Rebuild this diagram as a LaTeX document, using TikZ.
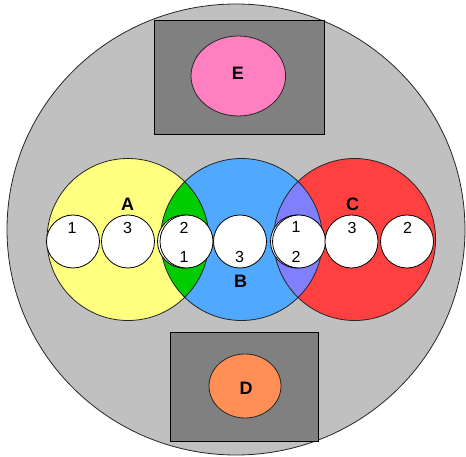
\documentclass[tikz,border=0pt]{standalone}
\usepackage{fontspec}
\setmainfont{Liberation Sans}
\usetikzlibrary{shapes.geometric}
\definecolor{diskgray}{HTML}{C0C0C0}
\definecolor{boxgray}{HTML}{808080}
\definecolor{pinkE}{HTML}{FF80C0}
\definecolor{orangeD}{HTML}{FF8F55}
\definecolor{yellowA}{HTML}{FFFF80}
\definecolor{blueB}{HTML}{50A8FF}
\definecolor{redC}{HTML}{FF4040}
\definecolor{greenAB}{HTML}{00CC00}
\definecolor{violetBC}{HTML}{8080FF}
\begin{document}
\begin{tikzpicture}[x=1pt,y=-1pt,
  outline/.style={draw=black!85, line width=0.8pt},
  hole/.style={circle, draw=black, line width=0.8pt, fill=white,
               minimum size=53pt, inner sep=0pt},
  blob/.style={ellipse, draw=black!85, line width=0.8pt, inner sep=0pt},
  num/.style={font=\fontsize{16}{16}\selectfont, inner sep=0pt},
  tag/.style={font=\fontsize{18}{18}\selectfont\bfseries, inner sep=0pt}]
\useasboundingbox (0,0) rectangle (466,457);

% outer disk
\draw[outline, fill=diskgray] (236,229.5) ellipse [x radius=229pt, y radius=225.5pt];

% upper and lower boxes with their ellipses
\draw[draw=black, line width=0.8pt, fill=boxgray] (154.7,20) rectangle (324,134);
\draw[draw=black, line width=0.8pt, fill=boxgray] (170,332.7) rectangle (318.7,441);
\node[blob, fill=pinkE, minimum width=94.6pt, minimum height=80pt] (E) at (238.3,76) {};
\node[blob, fill=orangeD, minimum width=72pt, minimum height=64pt] (D) at (245,386) {};
\node[tag] (labE) at (238,73) {E};
\node[tag] (labD) at (246,388) {D};

% the three sets
\coordinate (cA) at (128,239.5);
\coordinate (cB) at (241.5,239.5);
\coordinate (cC) at (354.6,239.5);
\fill[yellowA] (cA) circle (81pt);
\fill[blueB] (cB) circle (81pt);
\fill[redC] (cC) circle (81pt);
\begin{scope}
  \clip (cA) circle (81pt);
  \fill[greenAB] (cB) circle (81pt);
\end{scope}
\begin{scope}
  \clip (cC) circle (81pt);
  \fill[violetBC] (cB) circle (81pt);
\end{scope}
\draw[outline] (cA) circle (81pt);
\draw[outline] (cB) circle (81pt);
\draw[outline] (cC) circle (81pt);

% members
\node[hole] (a1) at (73,241.5) {};
\node[hole] (a3) at (128,241.5) {};
\node[hole] (a2) at (184,241.5) {};
\node[hole] (b1) at (186.5,241.5) {};
\node[hole] (b3) at (240,241.5) {};
\node[hole] (b2) at (297,241.5) {};
\node[hole] (c1) at (299,241.5) {};
\node[hole] (c3) at (351.5,241.5) {};
\node[hole] (c2) at (407,241.5) {};

% member numbers
\node[num] (ta1) at (72,227.5) {1};
\node[num] (ta3) at (127.5,227.5) {3};
\node[num] (ta2) at (184,227.5) {2};
\node[num] (tb1) at (184,256.5) {1};
\node[num] (tb3) at (239.5,256.5) {3};
\node[num] (tb2) at (296,256.5) {2};
\node[num] (tc1) at (296,227) {1};
\node[num] (tc3) at (352,227.5) {3};
\node[num] (tc2) at (407.5,227.5) {2};

% set names
\node[tag] (labA) at (127.5,204.5) {A};
\node[tag] (labB) at (240.5,281) {B};
\node[tag] (labC) at (352.5,204.5) {C};
\end{tikzpicture}
\end{document}
